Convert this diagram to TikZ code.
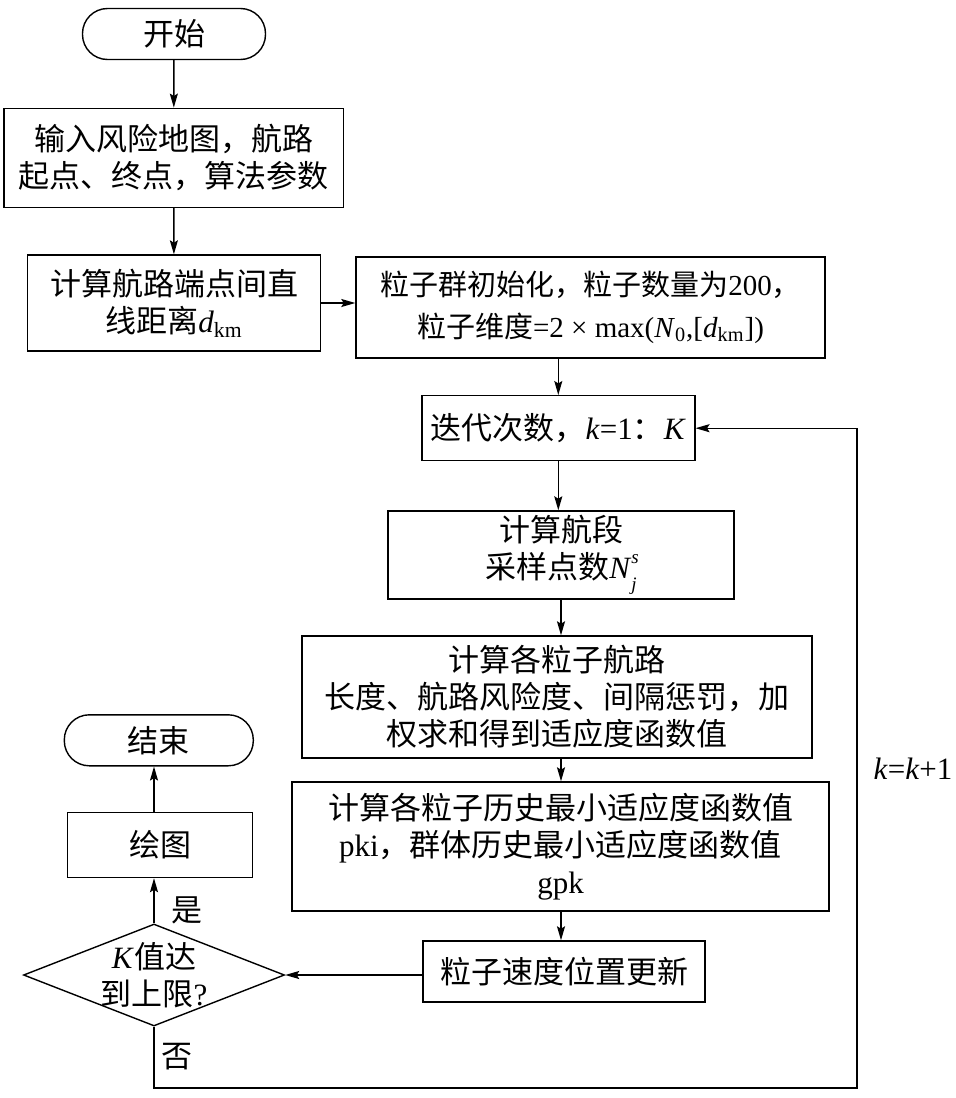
\documentclass[tikz,border=0pt]{standalone}
\usepackage{fontspec}
\setmainfont{Liberation Serif}
\newfontfamily\cjk{Noto Sans CJK SC}
\usetikzlibrary{shapes.geometric,arrows.meta}
\newcommand\lat[1]{{\rmfamily #1}}
\newcommand\idx[1]{{\rmfamily\fontsize{9.5pt}{9.5pt}\selectfont\textit{#1}}}

\begin{document}
\begin{tikzpicture}[x=0.5pt,y=-0.5pt,
    font=\cjk\fontsize{15.5pt}{18.5pt}\selectfont,
    box/.style={draw,line width=0.7pt,align=center,inner sep=2pt},
    term/.style={box,rounded corners=12.5pt},
    decide/.style={draw,line width=0.7pt,shape=diamond,inner sep=0pt},
    line/.style={line width=0.7pt,-{Stealth[length=7pt,width=4pt,inset=1.2pt]}}]
    \useasboundingbox (0,0) rectangle (955,1098);

    % Left column:
    \node[term,minimum width=91.5pt,minimum height=25.5pt] (start) at (174,34) {开始};
    \node[box,minimum width=169.5pt,minimum height=49.5pt] (input) at (173.7,157.8)
        {输入风险地图，航路\\起点、终点，算法参数};
    \node[box,minimum width=146.5pt,minimum height=48pt] (dist) at (174,303)
        {计算航路端点间直\\线距离\lat{\textit{d}\textsubscript{km}}};

    % Main loop:
    \node[box,minimum width=234.5pt,minimum height=50.5pt,font=\cjk\fontsize{14.5pt}{21pt}\selectfont] (init) at (590.5,307.5)
        {粒子群初始化，粒子数量为\lat{200}，\\粒子维度\lat{=2 × max(\textit{N}\textsubscript{0},[\textit{d}\textsubscript{km}])}};
    \node[box,minimum width=136.5pt,minimum height=32.5pt] (iter) at (558.3,428.2)
        {迭代次数，\lat{\textit{k}=1}：\lat{\textit{K}}};
    \node[box,minimum width=173pt,minimum height=44pt] (seg) at (561,555)
        {计算航段\\采样点数\lat{\textit{N}\rlap{\raisebox{1.1ex}{\idx{s}}}\raisebox{-0.8ex}{\idx{j}}}};
    \node[box,minimum width=255pt,minimum height=61pt] (fit) at (557,697)
        {计算各粒子航路\\长度、航路风险度、间隔惩罚，加\\权求和得到适应度函数值};
    \node[box,minimum width=268.5pt,minimum height=64.5pt] (hist) at (560.5,846.5)
        {计算各粒子历史最小适应度函数值\\\lat{pki}，群体历史最小适应度函数值\\\lat{gpk}};
    \node[box,minimum width=141pt,minimum height=30.5pt] (upd) at (564,971.5) {粒子速度位置更新};

    % Decision and end:
    \node[decide,minimum width=130.5pt,minimum height=51pt,
        label={[align=center]center:{\lat{\textit{K}}值达\\到上限\lat{?}}}] (judge) at (154,975) {};
    \node[box,minimum width=92.5pt,minimum height=32.5pt] (plot) at (160,845) {绘图};
    \node[term,minimum width=94.5pt,minimum height=25.5pt] (stop) at (158.8,740.3) {结束};

    \node (yes) at (187,910) {是};
    \node (no) at (177,1057) {否};
    \node (incr) at (913,769) {\lat{\textit{k}=\textit{k}+1}};

    % Arrows:
    \draw[line] (start) -- (input);
    \draw[line] (input) -- (dist);
    \draw[line] (dist.east) -- (dist.east -| init.west);
    \draw[line] (iter.north |- init.south) -- (iter.north);
    \draw[line] (iter.south) -- (iter.south |- seg.north);
    \draw[line] (seg.south) -- (seg.south |- fit.north);
    \draw[line] (seg.south |- fit.south) -- (seg.south |- hist.north);
    \draw[line] (seg.south |- hist.south) -- (seg.south |- upd.north);
    \draw[line] (judge.east -| upd.west) -- (judge.east);
    \draw[line] (judge.north) -- (judge.north |- plot.south);
    \draw[line] (judge.north |- plot.north) -- (judge.north |- stop.south);

    % Loop back:
    \coordinate (corner) at (857,1088);
    \draw[line] (judge.south) |- (corner) |- (iter.east);
\end{tikzpicture}
\end{document}
